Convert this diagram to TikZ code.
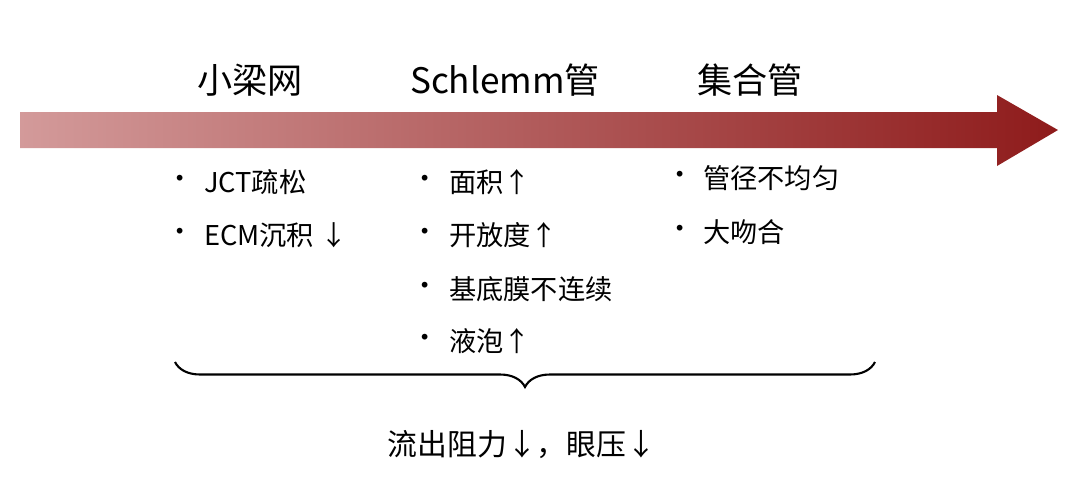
\documentclass[tikz,border=0pt]{standalone}
\usepackage{fontspec}
\setmainfont{Noto Sans CJK SC}
\usetikzlibrary{decorations.pathreplacing}
\definecolor{arrowlight}{HTML}{D39A9A}
\definecolor{arrowdark}{HTML}{8E1B1B}
\tikzset{
  header/.style={font=\fontsize{20}{24}\selectfont},
  item/.style={anchor=west,font=\fontsize{15.5}{18}\selectfont},
  dot/.style={font=\fontsize{15.5}{18}\selectfont}
}
\begin{document}
\begin{tikzpicture}[x=0.02cm,y=-0.02cm]
    \useasboundingbox (0,0) rectangle (1080,495);
    % flow arrow
    \shade[left color=arrowlight,right color=arrowdark]
        (20,112) -- (997,112) -- (997,95) -- (1058,130) -- (997,166) -- (997,148) -- (20,148) -- cycle;

    \node[header] (tm) at (250,80) {小梁网};
    \node[header] (sc) at (505,80) {Schlemm管};
    \node[header] (cc) at (750,80) {集合管};

    \node[dot] at (180,182) {•}; \node[item] (tm1) at (198,182) {JCT疏松};
    \node[dot] at (180,235) {•}; \node[item] (tm2) at (198,235) {ECM沉积 ↓};

    \node[dot] at (425,182) {•}; \node[item] (sc1) at (443,182) {面积↑};
    \node[dot] at (425,235) {•}; \node[item] (sc2) at (443,235) {开放度↑};
    \node[dot] at (425,289) {•}; \node[item] (sc3) at (443,289) {基底膜不连续};
    \node[dot] at (425,341) {•}; \node[item] (sc4) at (443,341) {液泡↑};

    \node[dot] at (680,178) {•}; \node[item] (cc1) at (697,178) {管径不均匀};
    \node[dot] at (680,232) {•}; \node[item] (cc2) at (697,232) {大吻合};

    \coordinate (bl) at (175,362);
    \coordinate (br) at (875,362);
    \draw[line width=1.2pt,decorate,decoration={brace,mirror,amplitude=0.5cm}] (bl) -- (br);

    \node[header,font=\fontsize{17}{20}\selectfont] (res) at (522,445) {流出阻力↓，眼压↓};
\end{tikzpicture}
\end{document}
